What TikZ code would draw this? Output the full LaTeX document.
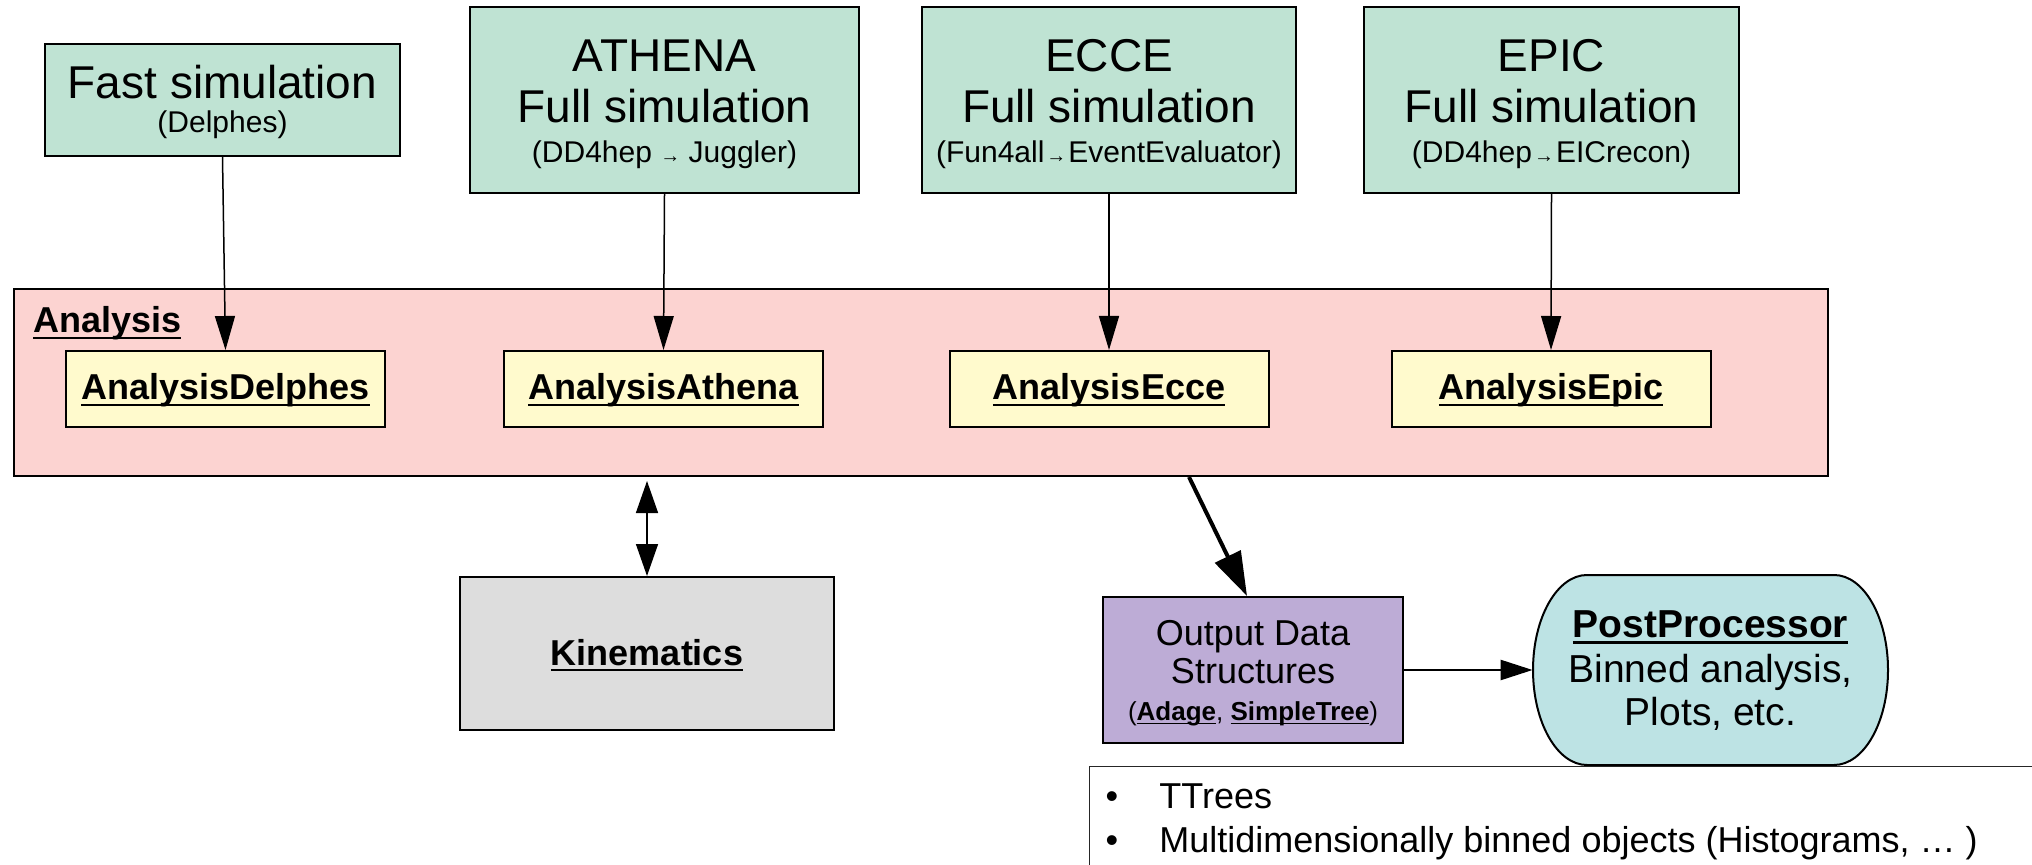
\documentclass[tikz,border=0pt]{standalone}
\usepackage{fontspec}
\setmainfont{Liberation Sans}
\usetikzlibrary{arrows.meta,calc}
\newcommand\fs[1]{\fontsize{#1}{#1}\selectfont}
\newcommand\myul[1]{\setbox0\hbox{#1}\rlap{\rule[-0.17em]{\wd0}{0.055em}}\box0}
\newcommand\smarr{{\fontsize{10}{10}\selectfont →}}
\definecolor{simgreen}{RGB}{191,227,211}
\definecolor{anapink}{RGB}{252,211,209}
\definecolor{anayellow}{RGB}{255,250,205}
\definecolor{kingray}{RGB}{221,221,221}
\definecolor{outlav}{RGB}{189,172,214}
\definecolor{postcyan}{RGB}{189,227,228}
\begin{document}
\begin{tikzpicture}[x=0.5pt,y=-0.5pt,
  box/.style={draw=black, line width=1pt, inner sep=0pt},
  simbox/.style={box, fill=simgreen},
  anbox/.style={box, fill=anayellow, minimum width=159.5pt, minimum height=38pt},
  txt/.style={anchor=base, inner sep=0pt},
  thinarrow/.style={line width=0.75pt, -{Triangle[length=17pt,width=10pt]}},
  dblarrow/.style={line width=0.75pt, {Triangle[length=16pt,width=11pt]}-{Triangle[length=16pt,width=11pt]}},
  thickarrow/.style={line width=2pt, -{Triangle[length=22pt,width=14pt]}},
  medarrow/.style={line width=1.2pt, -{Triangle[length=16pt,width=10pt]}}
]
\clip (0,0) rectangle (2032,865);
\fill[white] (0,0) rectangle (2032,865);

% simulation boxes
\node[simbox, minimum width=177.5pt, minimum height=56pt] (fast) at (222.5,100) {};
\node[txt, font=\fs{23}] (fastA) at (222.5,99) {Fast simulation};
\node[txt, font=\fs{15}] (fastB) at (222.5,133) {(Delphes)};

\node[simbox, minimum width=194.5pt, minimum height=93pt] (athena) at (664.5,100) {};
\node[txt, font=\fs{23}] (athA) at (664.5,72) {ATHENA};
\node[txt, font=\fs{23}] (athB) at (664.5,123) {Full simulation};
\node[txt, font=\fs{15}] (athC) at (664.5,163) {(DD4hep \smarr{} Juggler)};

\node[simbox, minimum width=187pt, minimum height=93pt] (ecce) at (1109,100) {};
\node[txt, font=\fs{23}] (ecA) at (1109,72) {ECCE};
\node[txt, font=\fs{23}] (ecB) at (1109,123) {Full simulation};
\node[txt, font=\fs{15}] (ecC) at (1109,163) {(Fun4all\kern1pt\smarr\kern1pt EventEvaluator)};

\node[simbox, minimum width=187.5pt, minimum height=93pt] (epic) at (1551.5,100) {};
\node[txt, font=\fs{23}] (epA) at (1551.5,72) {EPIC};
\node[txt, font=\fs{23}] (epB) at (1551.5,123) {Full simulation};
\node[txt, font=\fs{15}] (epC) at (1551.5,163) {(DD4hep\kern1pt\smarr\kern1pt EICrecon)};

% analysis
\node[box, fill=anapink, minimum width=907pt, minimum height=93.5pt] (analysis) at (921,382.5) {};
\node[txt, anchor=base west, font=\fs{18}\bfseries] (anLbl) at (33,333) {\myul{Analysis}};

\node[anbox] (aDel) at (225.5,389) {};
\node[txt, font=\fs{18}\bfseries] (aDelT) at (225.5,400) {\myul{AnalysisDelphes}};
\node[anbox] (aAth) at (663.5,389) {};
\node[txt, font=\fs{18}\bfseries] (aAthT) at (663.5,400) {\myul{AnalysisAthena}};
\node[anbox] (aEcce) at (1109,389) {};
\node[txt, font=\fs{18}\bfseries] (aEcceT) at (1109,400) {\myul{AnalysisEcce}};
\node[anbox] (aEpic) at (1551,389) {};
\node[txt, font=\fs{18}\bfseries] (aEpicT) at (1551,400) {\myul{AnalysisEpic}};

% kinematics
\node[box, fill=kingray, minimum width=187pt, minimum height=76.5pt] (kin) at (647,653.5) {};
\node[txt, font=\fs{18}\bfseries] (kinT) at (647,665) {\myul{Kinematics}};

% output data structures
\node[box, fill=outlav, minimum width=150pt, minimum height=73pt] (out) at (1253,670) {};
\node[txt, font=\fs{18}] (outA) at (1253,645) {Output Data};
\node[txt, font=\fs{18}] (outB) at (1253,683) {Structures};
\node[txt, font=\fs{13}] (outC) at (1253,720) {(\myul{\bfseries Adage}, \myul{\bfseries SimpleTree})};

% post processor
\draw[line width=1pt, fill=postcyan] (1587,575) -- (1834,575)
  arc[start angle=90, end angle=-90, x radius=27pt, y radius=47.5pt]
  -- (1587,765)
  arc[start angle=-90, end angle=-270, x radius=27pt, y radius=47.5pt] -- cycle;
\node[inner sep=0pt, minimum width=177.5pt, minimum height=95pt] (post) at (1710.5,670) {};
\node[txt, font=\fs{19.5}\bfseries] (postA) at (1710.5,637) {\myul{PostProcessor}};
\node[txt, font=\fs{19.5}] (postB) at (1710.5,682) {Binned analysis,};
\node[txt, font=\fs{19.5}] (postC) at (1710.5,725) {Plots, etc.};

% notes box
\node[draw=black!85, fill=white, line width=0.7pt, inner sep=0pt, anchor=north west,
  minimum width=500pt, minimum height=75pt] (notes) at (1089,766) {};
\node[txt, font=\fs{18}] (bul1) at (1112,808) {•};
\node[txt, anchor=base west, font=\fs{18}] (note1) at (1159,808) {TTrees};
\node[txt, font=\fs{18}] (bul2) at (1112,852) {•};
\node[txt, anchor=base west, font=\fs{18}] (note2) at (1159,852) {Multidimensionally binned objects (Histograms, … )};

% connectors
\draw[thinarrow] (fast.south) -- (aDel.north);
\draw[thinarrow] (athena.south) -- (aAth.north);
\draw[thinarrow] (ecce.south) -- (aEcce.north);
\draw[thinarrow] (epic.south) -- (aEpic.north);
\draw[dblarrow] ([yshift=-2pt]kin.north |- analysis.south) -- (kin.north);
\coordinate (tS) at ([xshift=134pt]analysis.south);
\coordinate (tE) at ([xshift=-3pt]out.north);
\draw[thickarrow] (tS) -- (tE);
\draw[medarrow] (out.east) -- (post.west);
\end{tikzpicture}
\end{document}
